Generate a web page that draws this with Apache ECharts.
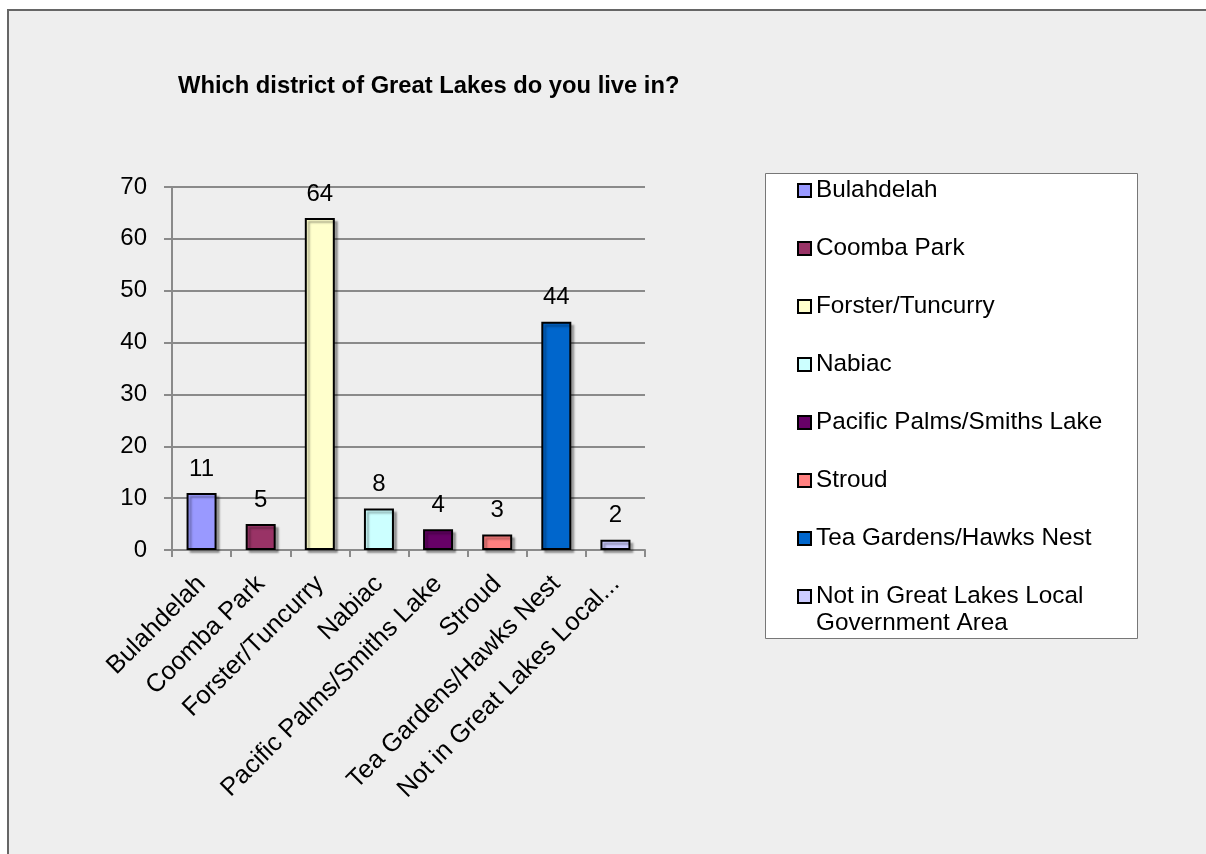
<!DOCTYPE html>
<html>
<head>
<meta charset="utf-8">
<script src="https://cdn.jsdelivr.net/npm/echarts@6/dist/echarts.min.js"></script>
<style>
  html, body { margin: 0; padding: 0; background: #ffffff; }
  #chart { width: 1206px; height: 854px; }
</style>
</head>
<body>
<div id="chart"></div>
<script>
// Survey responses per district
const titleText = 'Which district of Great Lakes do you live in?';
const districts = [
  'Bulahdelah',
  'Coomba Park',
  'Forster/Tuncurry',
  'Nabiac',
  'Pacific Palms/Smiths Lake',
  'Stroud',
  'Tea Gardens/Hawks Nest',
  'Not in Great Lakes Local Government Area'
];
const responses = [11, 5, 64, 8, 4, 3, 44, 2];
const barColors = ['#9999ff', '#993366', '#ffffcc', '#ccffff', '#660066', '#ff8080', '#0066cc', '#ccccff'];
const yTicks = { min: 0, max: 70, step: 10 };

const FONT = '"Liberation Sans", Arial, sans-serif';
const LEGEND_SIZE = 24.3;
const CATEGORY_SIZE = 25.5;
const MAX_CATEGORY_CHARS = 24;

// One series per district so each gets its own legend entry; stacking keeps bars centred
const series = districts.map((name, i) => ({
  name: name,
  type: 'bar',
  stack: 'districts',
  barWidth: 30,
  data: districts.map((_, j) => (j === i ? responses[i] : '-')),
  itemStyle: {
    color: barColors[i],
    borderColor: '#000000',
    borderWidth: 2,
    shadowColor: 'rgba(0,0,0,0.3)',
    shadowBlur: 2,
    shadowOffsetX: 3,
    shadowOffsetY: 3
  },
  label: {
    show: true,
    position: 'top',
    distance: 12,
    fontSize: 24,
    fontFamily: FONT,
    color: '#000000'
  }
}));

const lastName = districts[districts.length - 1];
const legendCommon = {
  orient: 'vertical',
  left: 797,
  padding: 0,
  itemGap: 31,
  itemWidth: 13,
  itemHeight: 13,
  icon: 'rect',
  selectedMode: false,
  itemStyle: { borderColor: '#000000', borderWidth: 2, shadowColor: 'transparent', shadowBlur: 0, shadowOffsetX: 0, shadowOffsetY: 0 },
  textStyle: { fontFamily: FONT, fontSize: LEGEND_SIZE, color: '#000000', lineHeight: 27 }
};

const chart = echarts.init(document.getElementById('chart'), null, { renderer: 'canvas' });
chart.setOption({
  backgroundColor: '#ffffff',
  animation: false,
  graphic: [
    {
      type: 'rect',
      z: -100,
      shape: { x: 8, y: 10, width: 1300, height: 900 },
      style: { fill: '#eeeeee', stroke: '#666666', lineWidth: 2 }
    },
    {
      type: 'rect',
      z: -50,
      shape: { x: 765.5, y: 173.5, width: 372, height: 465 },
      style: { fill: '#ffffff', stroke: '#777777', lineWidth: 1 }
    }
  ],
  title: {
    text: titleText,
    left: 173,
    top: 69,
    textStyle: { fontFamily: FONT, fontSize: 23.75, fontWeight: 'bold', color: '#000000' }
  },
  legend: [
    Object.assign({}, legendCommon, {
      top: 177,
      data: districts.slice(0, districts.length - 1)
    }),
    // Two-line entry: a blank first line keeps the swatch level with the first text line
    Object.assign({}, legendCommon, {
      top: 556,
      formatter: () => ' \nNot in Great Lakes Local\nGovernment Area',
      data: [lastName]
    })
  ],
  grid: { left: 172, right: 561, top: 187, bottom: 304, containLabel: false },
  xAxis: {
    type: 'category',
    data: districts,
    axisLine: { lineStyle: { color: '#8a8a8a', width: 2 } },
    axisTick: { show: true, length: 7, lineStyle: { color: '#8a8a8a', width: 2 } },
    axisLabel: {
      interval: 0,
      rotate: 45,
      margin: 30,
      fontSize: CATEGORY_SIZE,
      fontFamily: FONT,
      color: '#000000',
      width: 600,
      overflow: 'none',
      formatter: (v) => v.length > MAX_CATEGORY_CHARS + 1 ? v.slice(0, MAX_CATEGORY_CHARS) + '...' : v
    }
  },
  yAxis: {
    type: 'value',
    min: yTicks.min,
    max: yTicks.max,
    interval: yTicks.step,
    axisLine: { show: true, lineStyle: { color: '#8a8a8a', width: 2 } },
    axisTick: { show: true, length: 8, lineStyle: { color: '#8a8a8a', width: 2 } },
    splitLine: { show: true, lineStyle: { color: '#8a8a8a', width: 2 } },
    axisLabel: { fontSize: 24, fontFamily: FONT, color: '#000000', margin: 25 }
  },
  series: series
});
</script>
</body>
</html>
